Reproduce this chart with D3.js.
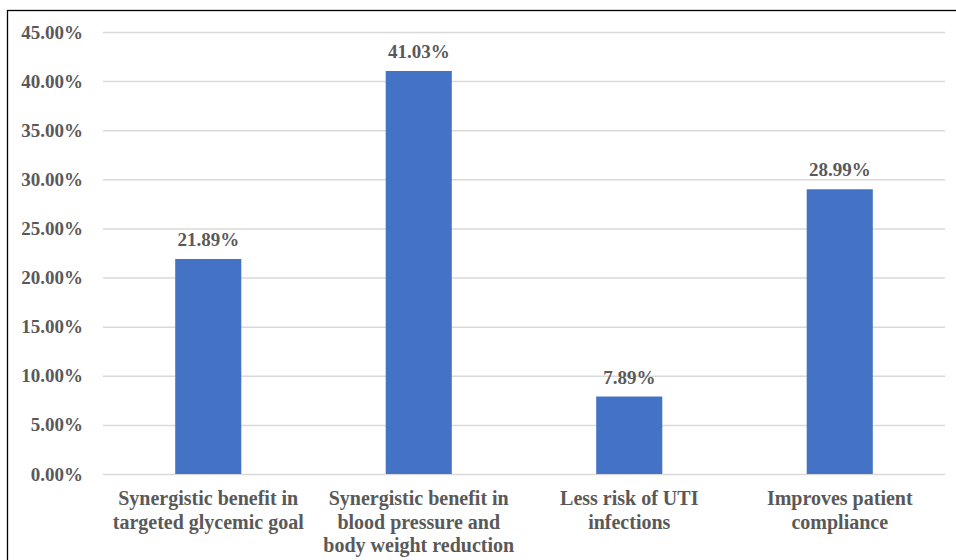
<!DOCTYPE html>
<html><head><meta charset="utf-8">
<script src="https://cdn.jsdelivr.net/npm/d3@7"></script>
<style>body{margin:0;background:#fff}svg{display:block}
svg text{font-family:"Liberation Serif","Times New Roman",Times,serif;font-weight:bold;}</style>
</head><body>
<svg id="c" width="956" height="560"></svg>
<script>
const categories = [
  ["Synergistic benefit in","targeted glycemic goal"],
  ["Synergistic benefit in","blood pressure and","body weight reduction"],
  ["Less risk of UTI","infections"],
  ["Improves patient","compliance"]
];
const values = [21.89, 41.03, 7.89, 28.99];
const yTicks = [0,5,10,15,20,25,30,35,40,45];

const svg = d3.select("#c");
const textColor = "#595959";
const m = {left:103, right:945, top:32, bottom:474};

svg.append("rect").attr("x",7.5).attr("y",10.5).attr("width",960).attr("height",560)
  .attr("fill","none").attr("stroke","#000").attr("stroke-width",1.3);

const x = d3.scaleBand().domain(d3.range(categories.length)).range([m.left,m.right]).paddingInner(0.686).paddingOuter(0.343);
const y = d3.scaleLinear().domain([0,45]).range([m.bottom,m.top]);

const yAxis = d3.axisLeft(y).tickValues(yTicks).tickFormat(d=>d.toFixed(2)+"%").tickSize(-(m.right-m.left)).tickPadding(20);
const gy = svg.append("g").attr("transform",`translate(${m.left},0)`).call(yAxis);
gy.attr("font-family",null).attr("font-size",null);
gy.select(".domain").remove();
gy.selectAll(".tick line").attr("stroke","#d9d9d9").attr("stroke-width",1.5);
gy.selectAll(".tick text").attr("fill",textColor).style("font-size","19px");

svg.append("g").selectAll("rect").data(values).join("rect")
  .attr("x",(d,i)=>x(i)).attr("width",x.bandwidth())
  .attr("y",d=>y(d)).attr("height",d=>y(0)-y(d)).attr("fill","#4472C4");

svg.append("g").selectAll("text").data(values).join("text")
  .attr("x",(d,i)=>x(i)+x.bandwidth()/2).attr("y",d=>y(d)-13)
  .attr("text-anchor","middle").attr("fill",textColor).style("font-size","19px")
  .text(d=>d.toFixed(2)+"%");

const gx = svg.append("g");
categories.forEach((lines,i)=>{
  const t = gx.append("text").attr("text-anchor","middle").attr("fill",textColor).style("font-size","20px");
  lines.forEach((l,j)=>{
    t.append("tspan").attr("x",x(i)+x.bandwidth()/2).attr("y",505+j*23.5).text(l);
  });
});
</script>
</body></html>
